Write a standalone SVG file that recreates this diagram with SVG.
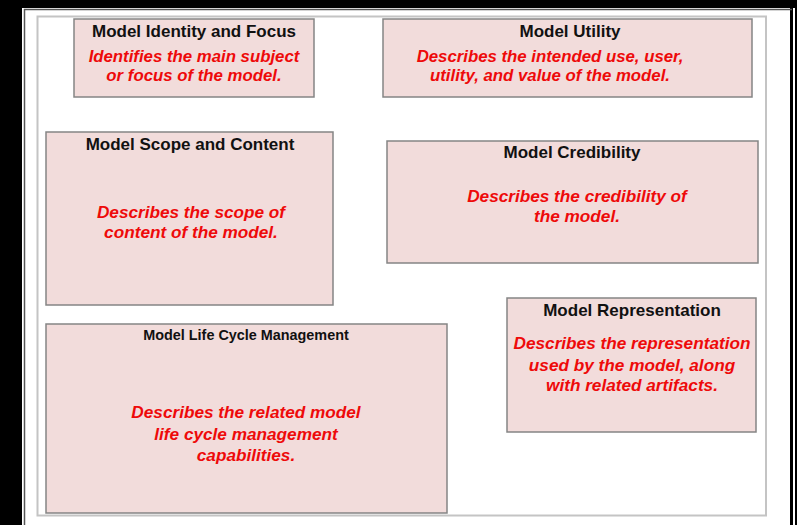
<svg xmlns="http://www.w3.org/2000/svg" width="797" height="525" viewBox="0 0 797 525">
<style>
.box{fill:#f2dcdb;stroke:#858585;stroke-width:1.5}
.t{font-family:"Liberation Sans",Arial,sans-serif;font-weight:bold;font-size:17px;fill:#111;text-anchor:middle}
.s{font-size:14.4px}
.r{font-family:"Liberation Sans",Arial,sans-serif;font-weight:bold;font-style:italic;font-size:17.2px;fill:#ee0a0a;text-anchor:middle}
.c{font-size:16.8px}
</style>
<rect x="0" y="0" width="797" height="525" fill="#000"/>
<rect x="22" y="8" width="768" height="517" fill="#fff"/>
<rect x="793" y="8" width="2" height="517" fill="#fff"/>
<path d="M24.5 525V9.5H792" fill="none" stroke="#555" stroke-width="1.5"/>
<rect x="37.5" y="16.5" width="728.5" height="499" fill="none" stroke="#c4c4c4" stroke-width="2"/>
<g id="connectors"/>
<g id="identity">
<rect class="box" x="74" y="19" width="240" height="78"/>
<text class="t" x="194" y="37">Model Identity and Focus</text>
<text class="r c" x="194" y="61.5">Identifies the main subject</text>
<text class="r c" x="194" y="80.5">or focus of the model.</text>
</g>
<g id="utility">
<rect class="box" x="383" y="19" width="369" height="78"/>
<text class="t" x="570" y="37">Model Utility</text>
<text class="r c" x="550" y="61.5">Describes the intended use, user,</text>
<text class="r c" x="550" y="80.5">utility, and value of the model.</text>
</g>
<g id="scope">
<rect class="box" x="46" y="132" width="287" height="173"/>
<text class="t" x="190" y="150">Model Scope and Content</text>
<text class="r" x="191" y="218">Describes the scope of</text>
<text class="r" x="191" y="238">content of the model.</text>
</g>
<g id="credibility">
<rect class="box" x="387" y="141" width="371" height="122"/>
<text class="t" x="572" y="158">Model Credibility</text>
<text class="r" x="577" y="202">Describes the credibility of</text>
<text class="r" x="577" y="222">the model.</text>
</g>
<g id="representation">
<rect class="box" x="507" y="298" width="249" height="134"/>
<text class="t" x="632" y="316">Model Representation</text>
<text class="r" x="632" y="349">Describes the representation</text>
<text class="r" x="632" y="370.5">used by the model, along</text>
<text class="r" x="632" y="391">with related artifacts.</text>
</g>
<g id="lifecycle">
<rect class="box" x="46" y="324" width="401" height="189"/>
<text class="t s" x="246" y="340">Model Life Cycle Management</text>
<text class="r" x="246" y="418">Describes the related model</text>
<text class="r" x="246" y="440">life cycle management</text>
<text class="r" x="246" y="461">capabilities.</text>
</g>
</svg>
